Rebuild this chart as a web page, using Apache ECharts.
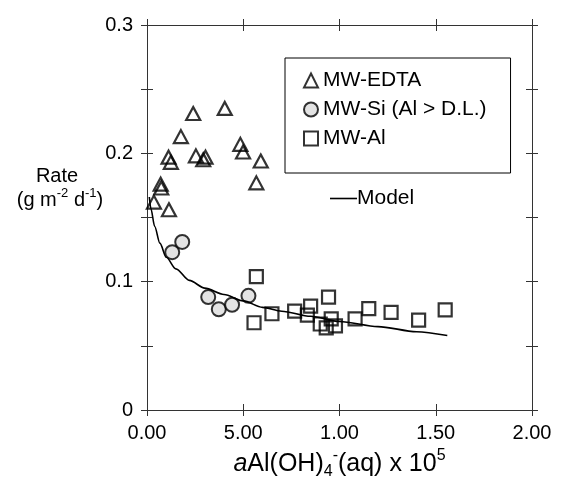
<!DOCTYPE html>
<html>
<head>
<meta charset="utf-8">
<script src="https://cdn.jsdelivr.net/npm/echarts@6/dist/echarts.min.js"></script>
<style>
  html, body { margin: 0; padding: 0; background: #fff; }
  #chart { width: 570px; height: 492px; }
</style>
</head>
<body>
<div id="chart"></div>
<script>
// Tick labels printed under the x axis (one per 0.5 step)
const xTickLabels = ['0.00', '5.00', '1.00', '1.50', '2.00'];

// Measured dissolution rates: [aAl(OH)4-(aq) x 1e5, rate in g m-2 d-1]
const mwEdta = [
  [0.036, 0.162], [0.071, 0.176], [0.074, 0.173], [0.114, 0.156],
  [0.112, 0.197], [0.124, 0.193], [0.176, 0.213], [0.240, 0.231],
  [0.254, 0.198], [0.292, 0.195], [0.304, 0.197], [0.404, 0.235],
  [0.485, 0.207], [0.499, 0.201], [0.568, 0.177], [0.591, 0.194]
];
const mwSi = [
  [0.131, 0.123], [0.183, 0.131], [0.318, 0.088],
  [0.373, 0.0785], [0.442, 0.082], [0.527, 0.089]
];
const mwAl = [
  [0.556, 0.068], [0.568, 0.104], [0.649, 0.075], [0.767, 0.077],
  [0.833, 0.074], [0.850, 0.081], [0.900, 0.067], [0.931, 0.064],
  [0.943, 0.088], [0.957, 0.071], [0.979, 0.0655], [1.081, 0.071],
  [1.152, 0.079], [1.268, 0.076], [1.411, 0.070], [1.549, 0.078]
];
// Rate-law model curve
const modelCurve = [
  [0.012, 0.166], [0.020, 0.157], [0.040, 0.143], [0.067, 0.130],
  [0.100, 0.119], [0.150, 0.110], [0.220, 0.101], [0.300, 0.095],
  [0.400, 0.090], [0.500, 0.085], [0.600, 0.080], [0.700, 0.077],
  [0.850, 0.073], [1.000, 0.069], [1.200, 0.065], [1.400, 0.061],
  [1.560, 0.058]
];

const FONT = '"Liberation Sans", Arial, Helvetica, sans-serif';
const INK = '#000';
const AXIS = '#333';

function yLabel(v) {
  const t = Math.round(v * 100);
  if (t % 10 !== 0) return '';
  return t === 0 ? '0' : (t / 100).toFixed(1);
}
function xLabel(v) {
  return xTickLabels[Math.round(v / 0.5)] || '';
}

// Each frame side gets two axes (outer + inner ticks) so ticks cross the frame
function makeX(position, inside, main) {
  const ax = {
    type: 'value', position: position, min: 0, max: 2, interval: 0.5,
    axisLine: { show: !inside, onZero: false, lineStyle: { color: AXIS, width: 1 } },
    axisTick: { show: true, inside: inside, length: 6, lineStyle: { color: AXIS, width: 1 } },
    axisLabel: { show: main, formatter: xLabel, margin: 13, fontSize: 20, fontFamily: FONT, color: INK },
    splitLine: { show: false }
  };
  if (main) {
    ax.name = '{i|a}Al(OH){sub|4}{sup|-}(aq) x 10{sup|5}';
    ax.nameLocation = 'middle';
    ax.nameGap = 38;
    ax.nameTextStyle = {
      fontSize: 25, fontFamily: FONT, color: INK, lineHeight: 32,
      rich: {
        i: { fontSize: 25, fontFamily: FONT, fontStyle: 'italic', color: INK, lineHeight: 32 },
        sub: { fontSize: 16, fontFamily: FONT, color: INK, verticalAlign: 'bottom', lineHeight: 18 },
        sup: { fontSize: 16, fontFamily: FONT, color: INK, verticalAlign: 'top', lineHeight: 18 }
      }
    };
  }
  return ax;
}
function makeY(position, inside, main) {
  return {
    type: 'value', position: position, min: 0, max: 0.3, interval: 0.05,
    axisLine: { show: !inside, onZero: false, lineStyle: { color: AXIS, width: 1 } },
    axisTick: { show: true, inside: inside, length: 6, lineStyle: { color: AXIS, width: 1 } },
    axisLabel: { show: main, formatter: yLabel, margin: 14, fontSize: 20, fontFamily: FONT, color: INK },
    splitLine: { show: false }
  };
}

const chart = echarts.init(document.getElementById('chart'), null, { renderer: 'canvas' });

chart.setOption({
  backgroundColor: '#fff',
  animation: false,
  grid: { left: 147, right: 38, top: 25, bottom: 82, containLabel: false },
  xAxis: [
    makeX('bottom', false, true),
    makeX('bottom', true, false),
    makeX('top', false, false),
    makeX('top', true, false)
  ],
  yAxis: [
    makeY('left', false, true),
    makeY('left', true, false),
    makeY('right', false, false),
    makeY('right', true, false)
  ],
  legend: [
    {
      data: ['MW-EDTA', 'MW-Si (Al > D.L.)', 'MW-Al'],
      orient: 'vertical', left: 285, top: 58,
      itemWidth: 14, itemHeight: 14, itemGap: 8,
      padding: [12, 24, 24, 18],
      borderColor: INK, borderWidth: 1,
      selectedMode: false,
      textStyle: { fontFamily: FONT, fontSize: 21, color: INK }
    },
    {
      data: [{ name: 'Model', icon: 'rect' }],
      left: 330, top: 188,
      itemWidth: 27, itemHeight: 1.6, padding: 0,
      selectedMode: false,
      itemStyle: { color: INK },
      textStyle: { fontFamily: FONT, fontSize: 21, color: INK, padding: [0, 0, 0, -5] }
    }
  ],
  graphic: [
    {
      type: 'text', x: 57, y: 176,
      style: { text: 'Rate', fontSize: 20, fontFamily: FONT, fill: INK, align: 'center', verticalAlign: 'middle' }
    },
    {
      type: 'text', x: 60, y: 200,
      style: {
        text: '(g m{sup|-2} d{sup|-1})',
        fontSize: 20, fontFamily: FONT, fill: INK, align: 'center', verticalAlign: 'middle', lineHeight: 26,
        rich: {
          sup: { fontSize: 13, fontFamily: FONT, fill: INK, verticalAlign: 'top', lineHeight: 14 }
        }
      }
    }
  ],
  series: [
    {
      name: 'MW-EDTA', type: 'scatter', data: mwEdta,
      symbol: 'triangle', symbolSize: [14, 13],
      itemStyle: { color: 'rgba(255,255,255,0)', borderColor: INK, borderWidth: 2.2 }
    },
    {
      name: 'MW-Si (Al > D.L.)', type: 'scatter', data: mwSi,
      symbol: 'circle', symbolSize: 14,
      itemStyle: { color: '#dcdcdc', borderColor: INK, borderWidth: 2 }
    },
    {
      name: 'MW-Al', type: 'scatter', data: mwAl,
      symbol: 'rect', symbolSize: 13,
      itemStyle: { color: 'rgba(255,255,255,0)', borderColor: INK, borderWidth: 2.2 }
    },
    {
      name: 'Model', type: 'line', data: modelCurve,
      symbol: 'none', smooth: 0.3, smoothMonotone: 'x',
      lineStyle: { color: INK, width: 1.6 },
      itemStyle: { color: INK }
    }
  ]
});
</script>
</body>
</html>
